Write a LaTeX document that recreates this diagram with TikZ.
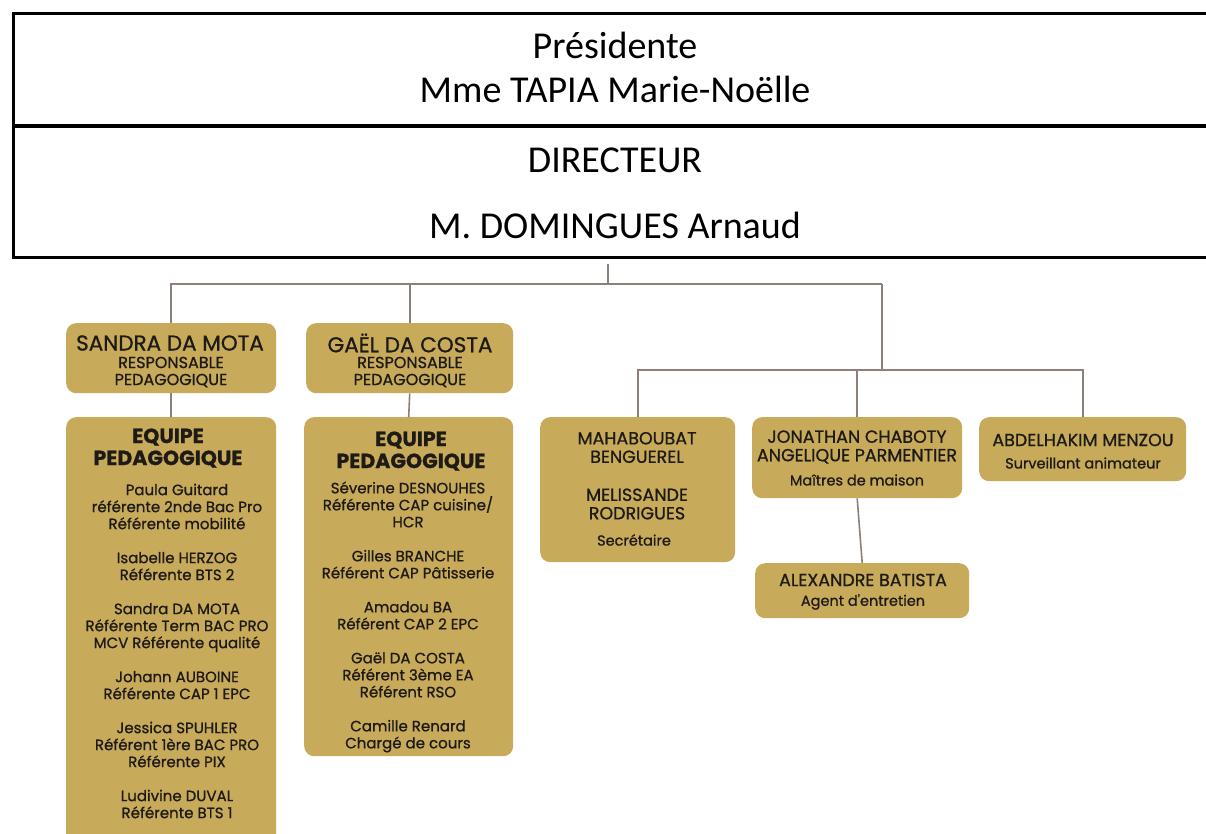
\documentclass[tikz,border=0pt]{standalone}
\usepackage{fontspec}
\setmainfont{Carlito}
\newfontfamily\pop{Poppins}[FakeBold=0.9]
\definecolor{gold}{HTML}{C8AA5B}
\definecolor{connc}{HTML}{8E7F7A}
\definecolor{ink}{HTML}{1E1B16}
\begin{document}
\begin{tikzpicture}[x=1pt,y=-1pt,
  hdr/.style={draw=black,line width=2.6pt,minimum width=1205pt,inner sep=0pt,anchor=north west},
  gbox/.style={fill=gold,rounded corners=10pt,inner sep=0pt,anchor=north west},
  conn/.style={draw=connc,line width=1.6pt},
  htext/.style={font=\fontsize{38}{46}\selectfont,anchor=base,inner sep=0pt},
  big/.style={font=\pop\fontsize{21.5}{22}\selectfont,text=ink,inner sep=0pt,align=center},
  head/.style={font=\pop\bfseries\fontsize{20.5}{22}\selectfont,text=ink,inner sep=0pt,align=center},
  caps/.style={font=\pop\fontsize{17.5}{18.5}\selectfont,text=ink,inner sep=0pt,align=center},
  sub/.style={font=\pop\fontsize{14.5}{17}\selectfont,text=ink,inner sep=0pt,align=center},
  subc/.style={font=\pop\fontsize{16}{17}\selectfont,text=ink,inner sep=0pt,align=center},
  body/.style={font=\pop\fontsize{15}{17}\selectfont,text=ink,inner sep=0pt,align=center}
]
\useasboundingbox (0,0) rectangle (1206,834);
\clip (0,0) rectangle (1206,834);

% header
\node[hdr,minimum height=112pt] (pres) at (12,12) {};
\node[hdr,minimum height=131pt] (dir) at (12,125) {};
\node[htext] (t1) at (615,59) {Présidente};
\node[htext] (t2) at (615,103) {Mme TAPIA Marie-Noëlle};
\node[htext] (t3) at (615,173) {DIRECTEUR};
\node[htext] (t4) at (615,238) {M. DOMINGUES Arnaud};

% boxes
\node[gbox,minimum width=210pt,minimum height=70pt] (sandra) at (66,323) {};
\node[gbox,minimum width=207pt,minimum height=70pt] (gael) at (306,323) {};
\node[gbox,minimum width=210pt,minimum height=440pt] (eq1) at (66,417) {};
\node[gbox,minimum width=209pt,minimum height=339pt] (eq2) at (304,417) {};
\node[gbox,minimum width=195pt,minimum height=145pt] (maha) at (540,417) {};
\node[gbox,minimum width=210pt,minimum height=81pt] (jon) at (752,417) {};
\node[gbox,minimum width=207pt,minimum height=64pt] (abd) at (979,417) {};
\node[gbox,minimum width=214pt,minimum height=55pt] (alex) at (755,563) {};

% connectors
\coordinate (c0) at (608,264);
\coordinate (c1) at (608,284);
\coordinate (r0) at (882,284);
\coordinate (r1) at (882,370);
\draw[conn] (c0) -- (c1);
\draw[conn] (sandra.north) |- (r0);
\draw[conn] (gael.north) -- (gael.north |- c1);
\draw[conn] (r0) -- (r1);
\draw[conn] (maha.north) |- (abd.north |- r1) -- (abd.north);
\draw[conn] (jon.north) -- (jon.north |- r1);
\draw[conn] (sandra.south) -- (eq1.north);
\draw[conn] (gael.south) -- (eq2.north);
\draw[conn] (jon.south) -- (alex.north);

% texts
\node[big] (s1) at (170,343) {SANDRA DA MOTA};
\node[subc] (s2) at (171,372) {RESPONSABLE\\PEDAGOGIQUE};
\node[big] (g1) at (410,343) {GAËL DA COSTA};
\node[subc] (g2) at (410,372) {RESPONSABLE\\PEDAGOGIQUE};

\node[head] (e1h) at (168,448) {EQUIPE\\PEDAGOGIQUE};
\node[body] (e1b) at (177,651) {Paula Guitard\\référente 2nde Bac Pro\\Référente mobilité\\[17pt]
Isabelle HERZOG\\Référente BTS 2\\[17pt]
Sandra DA MOTA\\Référente Term BAC PRO\\MCV Référente qualité\\[17pt]
Johann AUBOINE\\Référente CAP 1 EPC\\[17pt]
Jessica SPUHLER\\Référent 1ère BAC PRO\\Référente PIX\\[17pt]
Ludivine DUVAL\\Référente BTS 1};

\node[head] (e2h) at (411,451) {EQUIPE\\PEDAGOGIQUE};
\node[body] (e2b) at (408,617) {Séverine DESNOUHES\\Référente CAP cuisine/\\HCR\\[17pt]
Gilles BRANCHE\\Référent CAP Pâtisserie\\[17pt]
Amadou BA\\Référent CAP 2 EPC\\[17pt]
Gaël DA COSTA\\Référent 3ème EA\\Référent RSO\\[17pt]
Camille Renard\\Chargé de cours};

\node[caps] (m1) at (637,447.5) {MAHABOUBAT\\BENGUEREL};
\node[caps] (m2) at (637,504) {MELISSANDE\\RODRIGUES};
\node[sub] (m3) at (634,540) {Secrétaire};

\node[caps] (j1) at (857,447) {JONATHAN CHABOTY\\ANGELIQUE PARMENTIER};
\node[sub] (j2) at (857,480) {Maîtres de maison};

\node[caps] (a1) at (1083,440) {ABDELHAKIM MENZOU};
\node[sub] (a2) at (1083,463) {Surveillant animateur};

\node[caps] (x1) at (863,580) {ALEXANDRE BATISTA};
\node[sub] (x2) at (863,602) {Agent d'entretien};
\end{tikzpicture}
\end{document}
